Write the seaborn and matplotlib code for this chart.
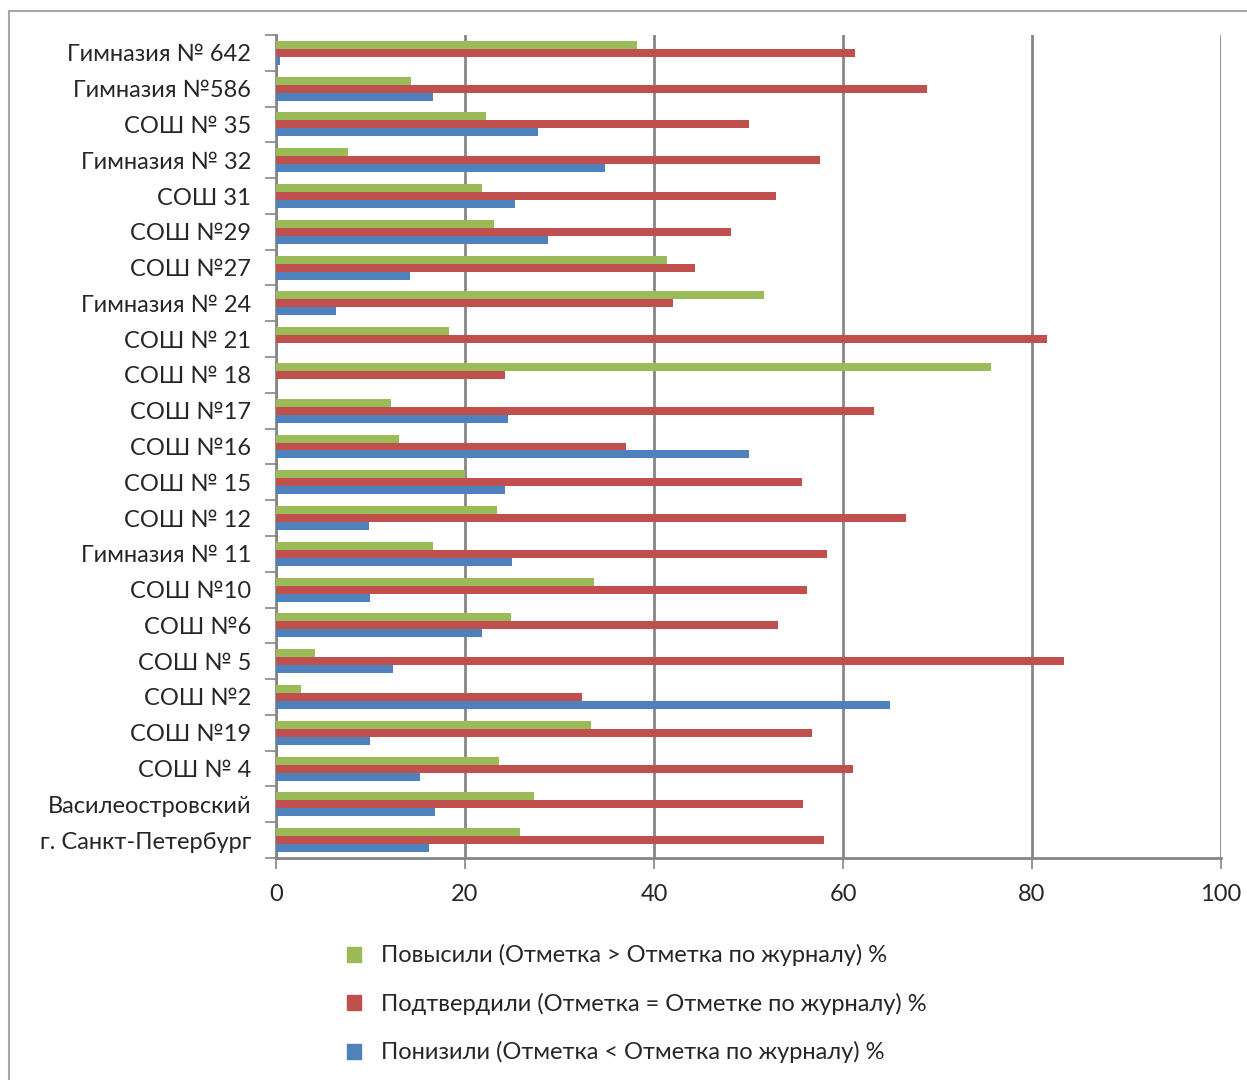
import matplotlib
matplotlib.use("Agg")
import matplotlib.pyplot as plt
import numpy as np
import pandas as pd
import seaborn as sns

schools = ["Гимназия № 642", "Гимназия №586", "СОШ № 35", "Гимназия № 32",
           "СОШ 31", "СОШ №29", "СОШ №27", "Гимназия № 24", "СОШ № 21",
           "СОШ № 18", "СОШ №17", "СОШ №16", "СОШ № 15", "СОШ № 12",
           "Гимназия № 11", "СОШ №10", "СОШ №6", "СОШ № 5", "СОШ №2",
           "СОШ №19", "СОШ № 4", "Василеостровский", "г. Санкт-Петербург"]
raised = [38.2, 14.3, 22.2, 7.6, 21.8, 23.1, 41.4, 51.6, 18.3, 75.7, 12.2,
          13.0, 20.0, 23.4, 16.6, 33.7, 24.9, 4.1, 2.65, 33.3, 23.6, 27.3,
          25.8]
confirmed = [61.3, 68.9, 50.0, 57.6, 52.9, 48.1, 44.3, 42.0, 81.6, 24.2,
             63.3, 37.0, 55.7, 66.7, 58.3, 56.2, 53.1, 83.4, 32.4, 56.7,
             61.1, 55.8, 58.0]
lowered = [0.4, 16.6, 27.7, 34.8, 25.3, 28.8, 14.2, 6.4, 0.0, 0.0, 24.5,
           50.0, 24.2, 9.8, 25.0, 9.9, 21.8, 12.4, 65.0, 9.9, 15.2, 16.8,
           16.2]
series = ["Повысили (Отметка > Отметка по журналу) %",
          "Подтвердили (Отметка = Отметке по журналу) %",
          "Понизили (Отметка < Отметка по журналу) %"]
colors = ["#9BBB59", "#C0504D", "#4F81BD"]

df = pd.DataFrame({"school": schools * 3,
                   "value": raised + confirmed + lowered,
                   "series": np.repeat(series, len(schools))})

sns.set_style("white")
plt.rcParams["font.family"] = ["Lato", "DejaVu Sans"]
grid_c = "#868686"
fs = 17

fig = plt.figure(figsize=(12.47, 10.8), dpi=100)
ax = fig.add_axes([276 / 1247, 1 - 858 / 1080, 945 / 1247, 823 / 1080])
sns.barplot(data=df, x="value", y="school", hue="series", hue_order=series,
            palette=colors, orient="h", width=0.67, saturation=1,
            errorbar=None, ax=ax, legend=True, zorder=3)
for p in ax.patches:
    p.set_edgecolor("none")

ax.set_xlim(0, 100)
ax.set_ylim(22.5, -0.5)
ax.set_xticks([0, 20, 40, 60, 80, 100])
ax.set_xlabel("")
ax.set_ylabel("")
ax.grid(axis="x", color=grid_c, lw=2, zorder=0)
ax.set_axisbelow(True)
for s in ["top", "right"]:
    ax.spines[s].set_visible(False)
for s in ["left", "bottom"]:
    ax.spines[s].set_color(grid_c)
    ax.spines[s].set_linewidth(2)
ax.tick_params(axis="x", length=8, width=1.2, color=grid_c, labelsize=fs,
               pad=11, bottom=True)
ax.tick_params(axis="y", which="major", length=0, labelsize=fs, pad=18)
ax.set_yticks(np.arange(-0.5, 23, 1), minor=True)
ax.tick_params(axis="y", which="minor", length=8, width=1.2, color=grid_c,
               left=True)

ax.legend_.remove()
handles = [plt.Rectangle((0, 0), 1, 1, color=c) for c in colors]
fig.legend(handles, series, loc="upper left",
           bbox_to_anchor=(326 / 1247, 1 - 923 / 1080), frameon=False,
           fontsize=fs, handlelength=0.6, handleheight=0.6,
           handletextpad=0.85, labelspacing=1.12)

fig.add_artist(plt.Rectangle((9 / 1247, -0.05), 1.2, 1.05 - 11 / 1080,
                             transform=fig.transFigure, fill=False,
                             edgecolor="#a6a6a6", lw=1.5))

fig.savefig("out.png", dpi=100)
